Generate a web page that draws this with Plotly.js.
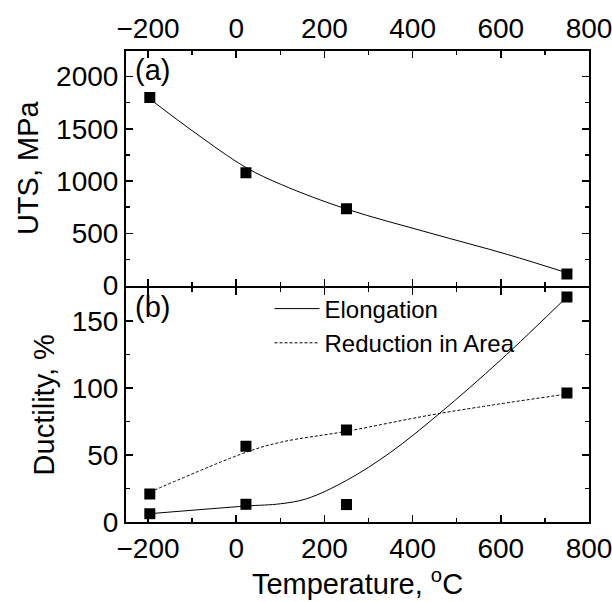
<!DOCTYPE html>
<html>
<head>
<meta charset="utf-8">
<script src="https://cdn.plot.ly/plotly-3.0.1.min.js"></script>
<style>html,body{margin:0;padding:0;background:#fff;}</style>
</head>
<body>
<div id="chart" style="width:612px;height:602px;"></div>
<script>
// Measured data (temperature, °C)
const temps = [-196, 22, 250, 750];
const uts = [1800, 1080, 735, 110];
const elongation = [6.2, 13.2, 13, 168];
const reductionArea = [20.9, 56.6, 68.7, 96.3];

// Fitted curves
const utsFitT = [-196, -92, 22, 103, 250, 439, 616, 750];
const utsFitV = [1786, 1458, 1130, 965, 732, 503, 296, 121];
const elFitT = [-196, 22, 100, 160, 250, 350, 461, 600, 750];
const elFitV = [6.2, 11.9, 13.6, 17.4, 31, 52, 81, 121, 168];
const raFitT = [-196, 22, 100, 250, 461, 750];
const raFitV = [22.3, 52, 59.5, 67.7, 81, 95.5];

const FONT = "Liberation Sans, Arial, sans-serif";
const sq = {symbol: 'square', size: 11, color: '#000'};

const traces = [
  {x: utsFitT, y: utsFitV, xaxis: 'x2', yaxis: 'y2', mode: 'lines', line: {color: '#000', width: 1, shape: 'spline'}, showlegend: false, hoverinfo: 'skip'},
  {x: temps, y: uts, xaxis: 'x2', yaxis: 'y2', mode: 'markers', marker: sq, showlegend: false},
  {x: elFitT, y: elFitV, xaxis: 'x', yaxis: 'y', mode: 'lines', name: 'Elongation', line: {color: '#000', width: 1, shape: 'spline'}},
  {x: raFitT, y: raFitV, xaxis: 'x', yaxis: 'y', mode: 'lines', name: 'Reduction in Area', line: {color: '#000', width: 1, dash: '3px,2px', shape: 'spline'}},
  {x: temps, y: elongation, xaxis: 'x', yaxis: 'y', mode: 'markers', marker: sq, showlegend: false},
  {x: temps, y: reductionArea, xaxis: 'x', yaxis: 'y', mode: 'markers', marker: sq, showlegend: false}
];

const common = {
  showline: true, linecolor: '#000', linewidth: 2, mirror: 'allticks',
  ticks: 'inside', ticklen: 7, tickwidth: 1.5, tickcolor: '#000',
  showgrid: false, zeroline: false, ticklabeloverflow: 'allow',
  tickfont: {family: FONT, size: 28, color: '#000'}
};

const H = 471;            // plot area height in px
const half = 1 / H;       // 1px in paper units

const layout = {
  width: 612, height: 602,
  margin: {l: 126, r: 23, t: 51, b: 80},
  paper_bgcolor: '#fff', plot_bgcolor: '#fff',
  font: {family: FONT, color: '#000'},
  showlegend: true,
  legend: {x: 0.31, y: 0.5, xanchor: 'left', yanchor: 'top', bgcolor: 'rgba(0,0,0,0)',
           itemwidth: 45,
           font: {family: FONT, size: 24, color: '#000'}, tracegroupgap: 0},
  xaxis: Object.assign({}, common, {
    domain: [0, 1], anchor: 'y', range: [-250, 800], dtick: 200, tick0: 0,
    minor: {ticks: 'inside', dtick: 100, ticklen: 4, tickcolor: '#000'},
    title: {text: 'Temperature, <sup>o</sup>C', font: {family: FONT, size: 29, color: '#000'}, standoff: 10}
  }),
  yaxis: Object.assign({}, common, {
    domain: [0, 0.5 - half], anchor: 'x', range: [0, 175], dtick: 50,
    minor: {ticks: 'inside', dtick: 25, ticklen: 4, tickcolor: '#000'},
    title: {text: 'Ductility, %', font: {family: FONT, size: 29, color: '#000'}, standoff: 9}
  }),
  xaxis2: Object.assign({}, common, {
    domain: [0, 1], anchor: 'y2', side: 'top', matches: 'x', range: [-250, 800], dtick: 200, tick0: 0,
    minor: {ticks: 'inside', dtick: 100, ticklen: 4, tickcolor: '#000'}
  }),
  yaxis2: Object.assign({}, common, {
    domain: [0.5 + half, 1], anchor: 'x2', range: [0, 2245], dtick: 500,
    minor: {ticks: 'inside', dtick: 250, ticklen: 4, tickcolor: '#000'},
    title: {text: 'UTS, MPa', font: {family: FONT, size: 29, color: '#000'}, standoff: 9}
  }),
  annotations: [
    {text: '(a)', xref: 'paper', yref: 'paper', x: 0.016, y: 0.997, xanchor: 'left', yanchor: 'top', showarrow: false, font: {family: FONT, size: 29, color: '#000'}},
    {text: '(b)', xref: 'paper', yref: 'paper', x: 0.016, y: 0.494, xanchor: 'left', yanchor: 'top', showarrow: false, font: {family: FONT, size: 29, color: '#000'}}
  ]
};

Plotly.newPlot('chart', traces, layout, {staticPlot: true, displayModeBar: false});
</script>
</body>
</html>
